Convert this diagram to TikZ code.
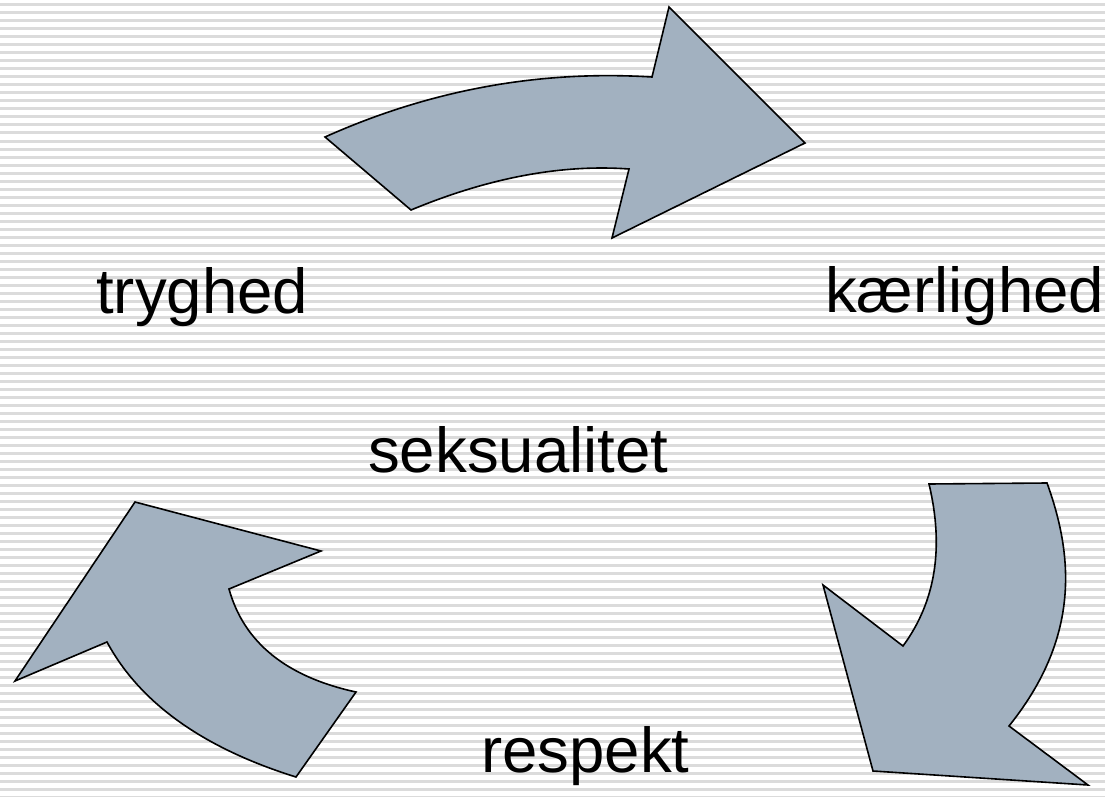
\documentclass[tikz,border=0pt]{standalone}
\usepackage{fontspec}
\setmainfont{Liberation Sans}
\begin{document}
\begin{tikzpicture}[x=1pt,y=-1pt]
	\tikzstyle{stripe}=[draw=black!14,line width=3pt]
	\tikzstyle{bigarrow}=[draw=black,fill={rgb,255:red,162;green,177;blue,192},line width=1.6pt,line join=miter]
	\tikzstyle{word}=[anchor=base west,inner sep=0pt,font=\fontsize{63.5}{70}\selectfont]
	\useasboundingbox (0,0) rectangle (1105,797);
	% striped background
	\foreach \y in {5,13,...,797}
		\draw[stripe] (0,\y) -- (1105,\y);
	% the three curved arrows
	\draw[bigarrow] (325,137) -- (411,210) .. controls (488,178) and (561,164) .. (629,169)
		-- (612,238) -- (805,143) -- (669,7) -- (652,77)
		.. controls (539,70) and (430,90) .. (325,137) -- cycle;
	\draw[bigarrow] (929,484) -- (1047,483) .. controls (1075,560) and (1078,640) .. (1009,726)
		-- (1088,785) -- (873,771) -- (823,585) -- (903,646)
		.. controls (936,601) and (944,547) .. (929,484) -- cycle;
	\draw[bigarrow] (135,502) -- (321,551) -- (229,589) .. controls (244,643) and (287,677) .. (356,692)
		-- (296,777) .. controls (203,748) and (140,703) .. (107,642) -- (15,681) -- cycle;
	% words
	\node[word] (tryghed) at (96,313) {tryghed};
	\node[word] (kaerlighed) at (825,312) {kærlighed};
	\node[word] (seksualitet) at (368,472) {seksualitet};
	\node[word] (respekt) at (481,772) {respekt};
\end{tikzpicture}
\end{document}
